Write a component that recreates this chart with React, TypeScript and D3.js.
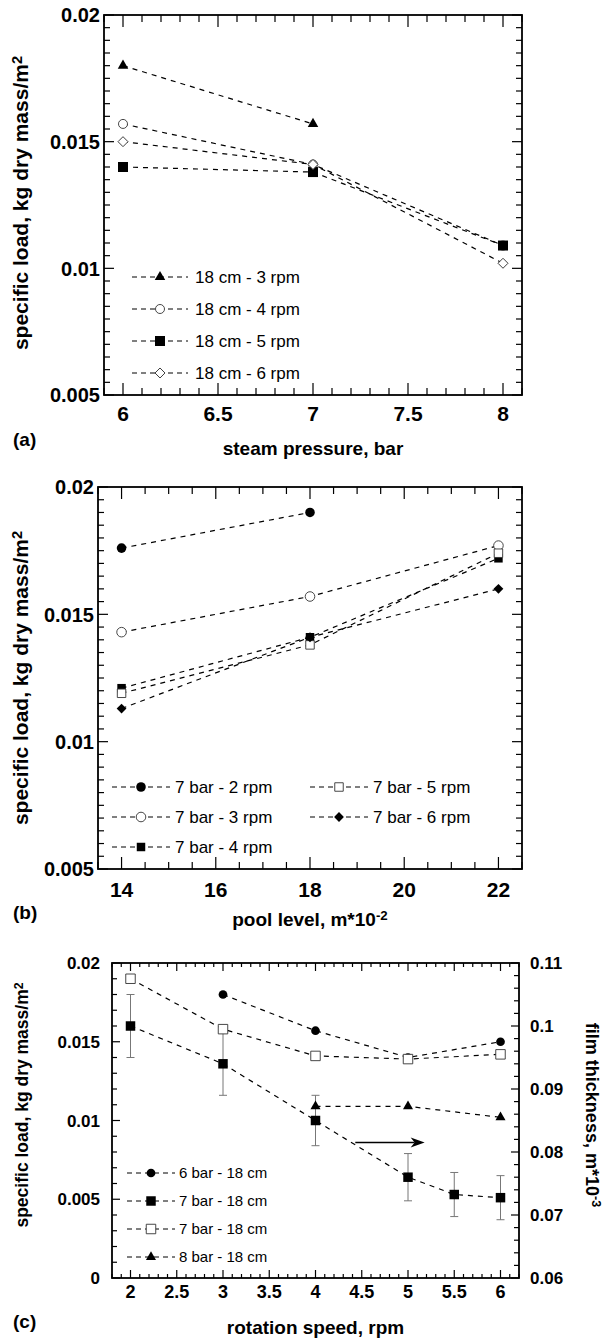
import React from 'react';
import * as d3 from 'd3';

const FONT = "'Liberation Sans', Arial, Helvetica, sans-serif";

// ---- panel (a): load vs steam pressure, 18 cm pool level
const steamPressure = [6, 7, 8];
const load18cm3rpm = [0.018, 0.0157, null];
const load18cm4rpm = [0.0157, 0.0141, 0.0109];
const load18cm5rpm = [0.014, 0.0138, 0.0109];
const load18cm6rpm = [0.015, 0.0141, 0.0102];
const aXTicks = [6, 6.5, 7, 7.5, 8];
const aYTicks = [0.005, 0.01, 0.015, 0.02];

// ---- panel (b): load vs pool level, 7 bar
const poolLevel = [14, 18, 22];
const load7bar2rpm = [0.0176, 0.019, null];
const load7bar3rpm = [0.0143, 0.0157, 0.0177];
const load7bar4rpm = [0.0121, 0.0141, 0.0172];
const load7bar5rpm = [0.0119, 0.0138, 0.0174];
const load7bar6rpm = [0.0113, 0.0141, 0.016];
const bXTicks = [14, 16, 18, 20, 22];
const bYTicks = [0.005, 0.01, 0.015, 0.02];

// ---- panel (c): load / film thickness vs rotation speed, 18 cm
const speed6bar = [3, 4, 5, 6];
const load6bar = [0.018, 0.0157, 0.014, 0.015];
const speed7bar = [2, 3, 4, 5, 5.5, 6];
const load7bar = [0.016, 0.0136, 0.01, 0.0064, 0.0053, 0.0051];
const err7bar = [0.002, 0.002, 0.0016, 0.0015, 0.0014, 0.0014];
const speed7barFilm = [2, 3, 4, 5, 6];
const film7bar = [0.019, 0.0158, 0.0141, 0.0139, 0.0142];
const speed8bar = [4, 5, 6];
const load8bar = [0.0109, 0.0109, 0.0102];
const arrowX = [4.43, 5.18];
const arrowY = 0.0086;
const cXTicks = [2, 2.5, 3, 3.5, 4, 4.5, 5, 5.5, 6];
const cYTicks = [0, 0.005, 0.01, 0.015, 0.02];
const cY2Ticks = [0.06, 0.07, 0.08, 0.09, 0.1, 0.11];

type Shape = 'triangle' | 'circle' | 'square' | 'diamond';
type Series = {
  name: string;
  xs: number[];
  ys: (number | null)[];
  shape: Shape;
  filled: boolean;
  errs?: number[];
};

const shapeSizes: Record<string, Record<Shape, number>> = {
  a: { triangle: 48, circle: 64, square: 100, diamond: 50 },
  b: { triangle: 48, circle: 72, square: 72, diamond: 48 },
  c: { triangle: 44, circle: 60, square: 90, diamond: 40 },
};

const Marker = ({ shape, filled, x, y, size }: { shape: Shape; filled: boolean; x: number; y: number; size: number }) => {
  const type =
    shape === 'triangle' ? d3.symbolTriangle : shape === 'circle' ? d3.symbolCircle : d3.symbolSquare;
  const d = d3.symbol().type(type).size(size)() as string;
  const rot = shape === 'diamond' ? 45 : 0;
  return (
    <path
      d={d}
      transform={`translate(${x},${y}) rotate(${rot})`}
      fill={filled ? '#000' : '#fff'}
      stroke={filled ? 'none' : '#333'}
      strokeWidth={0.9}
    />
  );
};

const stepRange = (lo: number, hi: number, step: number) =>
  d3.range(Math.round((hi - lo) / step) + 1).map((i) => +(lo + i * step).toFixed(6));

type PanelProps = {
  id: string;
  box: { l: number; r: number; t: number; b: number };
  xDomain: [number, number];
  yDomain: [number, number];
  xTicks: number[];
  xMinor: number;
  yTicks: number[];
  yMinor: number;
  y2?: { domain: [number, number]; ticks: number[]; minor: number };
  tick: { xMaj: number; xMin: number; yMaj: number; yMin: number };
  fonts: { x: number; y: number; legend: number };
  labels: { xBase: number; yRight: number; titleBase: number; tagBase: number; yLabelY: number; yLabelSize: number; titleSize: number };
  title: React.ReactNode;
  series: Series[];
  legend: { x: number; y: number; row: number; colGap: number; perCol: number; line: number; text: number };
  extra?: (x: d3.ScaleLinear<number, number>, y: d3.ScaleLinear<number, number>) => React.ReactNode;
};

const Panel = (p: PanelProps) => {
  const { box } = p;
  const x = d3.scaleLinear().domain(p.xDomain).range([box.l, box.r]);
  const y = d3.scaleLinear().domain(p.yDomain).range([box.b, box.t]);
  const y2 = p.y2 ? d3.scaleLinear().domain(p.y2.domain).range([box.b, box.t]) : null;
  const line = d3
    .line<[number, number | null]>()
    .defined((d) => d[1] != null)
    .x((d) => x(d[0]))
    .y((d) => y(d[1] as number));
  const sizes = shapeSizes[p.id];

  const xMinorTicks = stepRange(p.xDomain[0], p.xDomain[1], p.xMinor);
  const yMinorTicks = stepRange(p.yDomain[0], p.yDomain[1], p.yMinor);
  const isMajor = (v: number, list: number[]) => list.some((t) => Math.abs(t - v) < 1e-9);

  return (
    <g fontFamily={FONT}>
      {/* ticks */}
      <g stroke="#000" strokeWidth={1.2}>
        {xMinorTicks.map((v) => {
          const len = isMajor(v, p.xTicks) ? p.tick.xMaj : p.tick.xMin;
          return (
            <g key={'x' + v}>
              <line x1={x(v)} x2={x(v)} y1={box.b} y2={box.b - len} />
              <line x1={x(v)} x2={x(v)} y1={box.t} y2={box.t + len} />
            </g>
          );
        })}
        {yMinorTicks.map((v) => {
          const len = isMajor(v, p.yTicks) ? p.tick.yMaj : p.tick.yMin;
          return (
            <g key={'y' + v}>
              <line x1={box.l} x2={box.l + len} y1={y(v)} y2={y(v)} />
              {!y2 && <line x1={box.r} x2={box.r - len} y1={y(v)} y2={y(v)} />}
            </g>
          );
        })}
        {y2 &&
          p.y2 &&
          stepRange(p.y2.domain[0], p.y2.domain[1], p.y2.minor).map((v) => {
            const len = isMajor(v, p.y2!.ticks) ? p.tick.yMaj : p.tick.yMin;
            return <line key={'r' + v} x1={box.r} x2={box.r - len} y1={y2(v)} y2={y2(v)} />;
          })}
      </g>
      <rect x={box.l} y={box.t} width={box.r - box.l} height={box.b - box.t} fill="none" stroke="#000" strokeWidth={1.8} />

      {/* tick labels */}
      <g fontWeight="bold" fill="#000">
        {p.xTicks.map((v) => (
          <text key={'xl' + v} x={x(v)} y={p.labels.xBase} textAnchor="middle" fontSize={p.fonts.x}>
            {String(v)}
          </text>
        ))}
        {p.yTicks.map((v) => (
          <text key={'yl' + v} x={p.labels.yRight} y={y(v)} dy="0.36em" textAnchor="end" fontSize={p.fonts.y}>
            {String(v)}
          </text>
        ))}
        {y2 &&
          p.y2!.ticks.map((v) => (
            <text key={'y2l' + v} x={box.r + 11} y={y2(v)} dy="0.36em" textAnchor="start" fontSize={p.fonts.y}>
              {String(v)}
            </text>
          ))}
      </g>

      {/* error bars */}
      {p.series.map((s) =>
        s.errs
          ? s.xs.map((xv, i) => {
              const yv = s.ys[i] as number;
              const e = s.errs![i];
              const cx = x(xv);
              return (
                <g key={s.name + 'e' + i} stroke="#777" strokeWidth={1}>
                  <line x1={cx} x2={cx} y1={y(yv - e)} y2={y(yv + e)} />
                  <line x1={cx - 4} x2={cx + 4} y1={y(yv - e)} y2={y(yv - e)} />
                  <line x1={cx - 4} x2={cx + 4} y1={y(yv + e)} y2={y(yv + e)} />
                </g>
              );
            })
          : null
      )}

      {/* dashed lines */}
      {p.series.map((s) => (
        <path
          key={s.name + 'l'}
          d={line(s.xs.map((xv, i) => [xv, s.ys[i]] as [number, number | null])) || ''}
          fill="none"
          stroke="#000"
          strokeWidth={1.2}
          strokeDasharray="5,5"
        />
      ))}

      {p.extra && p.extra(x, y)}

      {/* markers */}
      {p.series.map((s) =>
        s.xs.map((xv, i) =>
          s.ys[i] == null ? null : (
            <Marker key={s.name + 'm' + i} shape={s.shape} filled={s.filled} x={x(xv)} y={y(s.ys[i] as number)} size={sizes[s.shape]} />
          )
        )
      )}

      {/* legend */}
      {p.series.map((s, i) => {
        const col = Math.floor(i / p.legend.perCol);
        const row = i % p.legend.perCol;
        const lx = p.legend.x + col * p.legend.colGap;
        const ly = p.legend.y + row * p.legend.row;
        return (
          <g key={s.name + 'leg'}>
            <line x1={lx} x2={lx + p.legend.line} y1={ly} y2={ly} stroke="#000" strokeWidth={1} strokeDasharray="5,4" />
            <Marker shape={s.shape} filled={s.filled} x={lx + p.legend.line / 2} y={ly} size={sizes[s.shape]} />
            <text x={lx + p.legend.text} y={ly} dy="0.36em" fontSize={p.fonts.legend}>
              {s.name}
            </text>
          </g>
        );
      })}

      {/* axis titles */}
      <text x={(box.l + box.r) / 2} y={p.labels.titleBase} textAnchor="middle" fontWeight="bold" fontSize={p.labels.titleSize}>
        {p.title}
      </text>
      <text x={13} y={p.labels.tagBase} fontWeight="bold" fontSize={19}>
        ({p.id})
      </text>
      <text
        transform={`translate(28,${p.labels.yLabelY}) rotate(-90)`}
        textAnchor="middle"
        fontWeight="bold"
        fontSize={p.labels.yLabelSize}
      >
        specific load, kg dry mass/m
        <tspan dy="-0.4em" fontSize="0.7em">2</tspan>
      </text>
    </g>
  );
};

const App = () => {
  const seriesA: Series[] = [
    { name: '18 cm - 3 rpm', xs: steamPressure, ys: load18cm3rpm, shape: 'triangle', filled: true },
    { name: '18 cm - 4 rpm', xs: steamPressure, ys: load18cm4rpm, shape: 'circle', filled: false },
    { name: '18 cm - 5 rpm', xs: steamPressure, ys: load18cm5rpm, shape: 'square', filled: true },
    { name: '18 cm - 6 rpm', xs: steamPressure, ys: load18cm6rpm, shape: 'diamond', filled: false },
  ];
  const seriesB: Series[] = [
    { name: '7 bar - 2 rpm', xs: poolLevel, ys: load7bar2rpm, shape: 'circle', filled: true },
    { name: '7 bar - 3 rpm', xs: poolLevel, ys: load7bar3rpm, shape: 'circle', filled: false },
    { name: '7 bar - 4 rpm', xs: poolLevel, ys: load7bar4rpm, shape: 'square', filled: true },
    { name: '7 bar - 5 rpm', xs: poolLevel, ys: load7bar5rpm, shape: 'square', filled: false },
    { name: '7 bar - 6 rpm', xs: poolLevel, ys: load7bar6rpm, shape: 'diamond', filled: true },
  ];
  const seriesC: Series[] = [
    { name: '6 bar - 18 cm', xs: speed6bar, ys: load6bar, shape: 'circle', filled: true },
    { name: '7 bar - 18 cm', xs: speed7bar, ys: load7bar, shape: 'square', filled: true, errs: err7bar },
    { name: '7 bar - 18 cm ', xs: speed7barFilm, ys: film7bar, shape: 'square', filled: false },
    { name: '8 bar - 18 cm', xs: speed8bar, ys: load8bar, shape: 'triangle', filled: true },
  ];

  return (
    <svg
      width={605}
      height={1339}
      viewBox="0 0 605 1339"
      style={{ position: 'absolute', left: 0, top: 0, background: '#fff' }}
    >
      <Panel
        id="a"
        box={{ l: 104, r: 522, t: 15, b: 395 }}
        xDomain={[5.9, 8.1]}
        yDomain={[0.005, 0.02]}
        xTicks={aXTicks}
        xMinor={0.1}
        yTicks={aYTicks}
        yMinor={0.0005}
        tick={{ xMaj: 12, xMin: 7, yMaj: 10, yMin: 6 }}
        fonts={{ x: 21, y: 20, legend: 17 }}
        labels={{ xBase: 421, yRight: 100, titleBase: 455, tagBase: 446, yLabelY: 203, yLabelSize: 21, titleSize: 19 }}
        title="steam pressure, bar"
        series={seriesA}
        legend={{ x: 132, y: 277, row: 32, colGap: 0, perCol: 4, line: 56, text: 63 }}
      />
      <Panel
        id="b"
        box={{ l: 98, r: 522, t: 487, b: 869 }}
        xDomain={[13.5, 22.5]}
        yDomain={[0.005, 0.02]}
        xTicks={bXTicks}
        xMinor={0.5}
        yTicks={bYTicks}
        yMinor={0.0005}
        tick={{ xMaj: 12, xMin: 7, yMaj: 10, yMin: 6 }}
        fonts={{ x: 21, y: 20, legend: 17 }}
        labels={{ xBase: 897, yRight: 94, titleBase: 926, tagBase: 919, yLabelY: 678, yLabelSize: 21, titleSize: 19 }}
        title={
          <>
            pool level, m*10<tspan dy="-0.45em" fontSize="0.7em">-2</tspan>
          </>
        }
        series={seriesB}
        legend={{ x: 112, y: 787, row: 30, colGap: 198, perCol: 3, line: 58, text: 63 }}
      />
      <Panel
        id="c"
        box={{ l: 112, r: 519, t: 963, b: 1278 }}
        xDomain={[1.8, 6.2]}
        yDomain={[0, 0.02]}
        xTicks={cXTicks}
        xMinor={0.1}
        yTicks={cYTicks}
        yMinor={0.001}
        y2={{ domain: [0.06, 0.11], ticks: cY2Ticks, minor: 0.002 }}
        tick={{ xMaj: 8, xMin: 4, yMaj: 8, yMin: 5 }}
        fonts={{ x: 18, y: 17, legend: 15 }}
        labels={{ xBase: 1298, yRight: 100, titleBase: 1334, tagBase: 1328, yLabelY: 1105, yLabelSize: 17.5, titleSize: 19 }}
        title="rotation speed, rpm"
        series={seriesC}
        legend={{ x: 127, y: 1173, row: 28, colGap: 0, perCol: 4, line: 48, text: 52 }}
        extra={(x, y) => (
          <g>
            <line x1={x(arrowX[0])} x2={x(arrowX[1]) - 10} y1={y(arrowY)} y2={y(arrowY)} stroke="#000" strokeWidth={1.5} />
            <path
              d={`M${x(arrowX[1])},${y(arrowY)} L${x(arrowX[1]) - 14},${y(arrowY) - 5} L${x(arrowX[1]) - 10},${y(arrowY)} L${x(arrowX[1]) - 14},${y(arrowY) + 5} Z`}
              fill="#000"
            />
          </g>
        )}
      />
      <text
        transform="translate(586,1115) rotate(90)"
        textAnchor="middle"
        fontFamily={FONT}
        fontWeight="bold"
        fontSize={18}
      >
        film thickness, m*10<tspan dy="-0.45em" fontSize="0.7em">-3</tspan>
      </text>
    </svg>
  );
};

export default App;
